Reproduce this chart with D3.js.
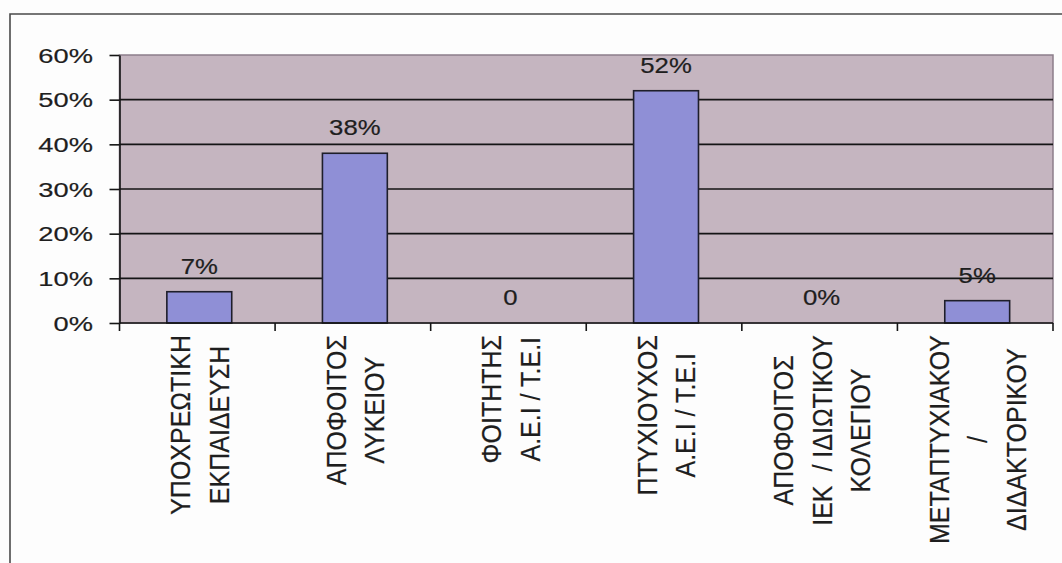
<!DOCTYPE html>
<html>
<head>
<meta charset="utf-8">
<script src="https://cdn.jsdelivr.net/npm/d3@7"></script>
<style>
  html, body { margin: 0; padding: 0; background: #fdfdfd; }
  svg { display: block; }
  text { font-family: "Liberation Sans", Arial, sans-serif; fill: #1e1e1e; stroke: #1e1e1e; stroke-width: 0.2; white-space: pre; }
</style>
</head>
<body>
<svg id="chart" width="1062" height="563"></svg>
<script>
// Education level distribution (share of respondents)
const categories = [
  ["ΥΠΟΧΡΕΩΤΙΚΗ", "ΕΚΠΑΙΔΕΥΣΗ"],
  ["ΑΠΟΦΟΙΤΟΣ", "ΛΥΚΕΙΟΥ"],
  ["ΦΟΙΤΗΤΗΣ", "Α.Ε.Ι / Τ.Ε.Ι"],
  ["ΠΤΥΧΙΟΥΧΟΣ", "Α.Ε.Ι / Τ.Ε.Ι"],
  ["ΑΠΟΦΟΙΤΟΣ", "ΙΕΚ  / ΙΔΙΩΤΙΚΟΥ", "ΚΟΛΕΓΙΟΥ"],
  ["ΜΕΤΑΠΤΥΧΙΑΚΟΥ", "/", "ΔΙΔΑΚΤΟΡΙΚΟΥ"]
];
const values = [7, 38, 0, 52, 0, 5];
const valueLabels = ["7%", "38%", "0", "52%", "0%", "5%"];
const yTicks = [0, 10, 20, 30, 40, 50, 60];
const yTickLabels = ["0%", "10%", "20%", "30%", "40%", "50%", "60%"];

const svg = d3.select("#chart");

// Plot area geometry
const plotLeft = 119.5, plotRight = 1053, plotTop = 55, plotBottom = 323;

const x = d3.scaleBand()
  .domain(d3.range(categories.length))
  .range([plotLeft, plotRight])
  .paddingInner(0.583)
  .paddingOuter(0.2915);

const y = d3.scaleLinear().domain([0, 60]).range([plotBottom, plotTop]);

// Outer frame (top and left edges)
svg.append("path")
  .attr("d", `M10,563 L10,14 L1062,14`)
  .attr("fill", "none")
  .attr("stroke", "#4a4a4a")
  .attr("stroke-width", 1.6);

// Plot background
svg.append("rect")
  .attr("x", plotLeft).attr("y", plotTop)
  .attr("width", plotRight - plotLeft).attr("height", plotBottom - plotTop)
  .attr("fill", "#c5b5c0")
  .attr("stroke", "#8c7e8a")
  .attr("stroke-width", 1.5);

// Horizontal gridlines
svg.append("g")
  .selectAll("line")
  .data(yTicks.filter(t => t > 0 && t < 60))
  .join("line")
  .attr("x1", plotLeft).attr("x2", plotRight)
  .attr("y1", d => y(d)).attr("y2", d => y(d))
  .attr("stroke", "#151515")
  .attr("stroke-width", 1.6);

// Bars
svg.append("g")
  .selectAll("rect")
  .data(values)
  .join("rect")
  .attr("x", (d, i) => x(i) + 2)
  .attr("y", d => y(d))
  .attr("width", x.bandwidth())
  .attr("height", d => y(0) - y(d))
  .attr("fill", "#8f8fd6")
  .attr("stroke", "#1e1e2a")
  .attr("stroke-width", 1.6)
  .style("display", d => d > 0 ? null : "none");

// Y axis
const yAxis = d3.axisLeft(y)
  .tickValues(yTicks)
  .tickFormat(() => "")
  .tickSizeInner(10)
  .tickSizeOuter(0);
const yg = svg.append("g").attr("transform", `translate(${plotLeft},0)`).call(yAxis);
yg.selectAll("path, line").attr("stroke", "#151515").attr("stroke-width", 1.6);

// Y tick labels (slightly wide lettering)
svg.append("g")
  .selectAll("text")
  .data(yTicks)
  .join("text")
  .attr("transform", d => `translate(93,${y(d)}) scale(1.3,1)`)
  .attr("text-anchor", "end")
  .attr("dy", "0.36em")
  .attr("font-size", 21)
  .text((d, i) => yTickLabels[i]);

// X axis with boundary ticks
const step = x.step();
const boundaries = d3.range(categories.length + 1).map(i => plotLeft + i * step);
svg.append("line")
  .attr("x1", plotLeft).attr("x2", plotRight)
  .attr("y1", plotBottom).attr("y2", plotBottom)
  .attr("stroke", "#151515").attr("stroke-width", 1.6);
svg.append("g")
  .selectAll("line")
  .data(boundaries)
  .join("line")
  .attr("x1", d => d).attr("x2", d => d)
  .attr("y1", plotBottom).attr("y2", plotBottom + 8)
  .attr("stroke", "#151515").attr("stroke-width", 1.6);

// Value labels above bars
svg.append("g")
  .selectAll("text")
  .data(values)
  .join("text")
  .attr("transform", (d, i) => `translate(${x(i) + x.bandwidth() / 2 + 2},${y(d) - 18}) scale(1.17,1)`)
  .attr("text-anchor", "middle")
  .attr("font-size", 22)
  .text((d, i) => valueLabels[i]);

// Rotated category labels, lines centred on the longest line
const linePitch = 38.5;
const labelTop = 335;
const catG = svg.append("g");
categories.forEach((lines, i) => {
  const cx = x(i) + x.bandwidth() / 2 + 2;
  const g = catG.append("g");
  const texts = lines.map(ln => g.append("text")
    .attr("font-size", 25)
    .attr("text-anchor", "middle")
    .attr("dy", "0.36em")
    .text(ln));
  const maxLen = d3.max(texts, t => t.node().getComputedTextLength());
  const cy = labelTop + maxLen / 2;
  texts.forEach((t, j) => {
    const off = (j - (lines.length - 1) / 2) * linePitch;
    t.attr("transform", `translate(${cx + off},${cy}) scale(1.12,1) rotate(-90)`);
  });
});
</script>
</body>
</html>
